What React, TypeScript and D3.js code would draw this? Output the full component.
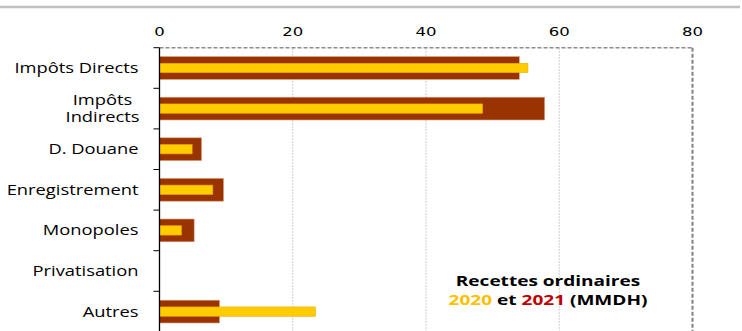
import React, { useEffect, useRef } from "react";
import * as d3 from "d3";

const categories = ["Impôts Directs", "Impôts\nIndirects", "D. Douane", "Enregistrement", "Monopoles", "Privatisation", "Autres"];
const values2021 = [54, 57.8, 6.3, 9.6, 5.2, 0, 9.0];
const values2020 = [55.3, 48.5, 4.9, 8.0, 3.3, 0, 23.4];
const xTicks = [0, 20, 40, 60, 80];
const titleLine1 = "Recettes ordinaires";

const W = 742, H = 331;
const SX = 1.31;

export default function App() {
  const ref = useRef<SVGSVGElement>(null);
  useEffect(() => {
    const svg = d3.select(ref.current);
    svg.selectAll("*").remove();
    const x = d3.scaleLinear().domain([0, 80]).range([159.5, 692.5]);
    const y = d3.scaleBand<string>().domain(categories).range([47.7, 47.7 + 40.6 * 7]).padding(0);
    const bw = y.bandwidth();

    // top gray rule
    svg.append("line").attr("x1", 0).attr("x2", 740).attr("y1", 7).attr("y2", 7)
      .attr("stroke", "#c0c0c0").attr("stroke-width", 2.5);

    // gridlines
    [20, 40, 60].forEach(v => {
      svg.append("line").attr("x1", x(v)).attr("x2", x(v)).attr("y1", 48).attr("y2", H)
        .attr("stroke", "#d0d0d0").attr("stroke-width", 1).attr("stroke-dasharray", "2,1");
    });
    // top axis dashed
    svg.append("line").attr("x1", x(0)).attr("x2", x(80)).attr("y1", 47.7).attr("y2", 47.7)
      .attr("stroke", "#8c8c8c").attr("stroke-width", 1.5).attr("stroke-dasharray", "4,2");
    // right border dashed
    svg.append("line").attr("x1", x(80)).attr("x2", x(80)).attr("y1", 47.7).attr("y2", H)
      .attr("stroke", "#808080").attr("stroke-width", 2).attr("stroke-dasharray", "4,2");

    // tick labels
    svg.selectAll("text.tick").data(xTicks).enter().append("text")
      .attr("transform", d => `translate(${x(d)},31.7) scale(1.27,1)`).attr("dy", "0.35em")
      .attr("text-anchor", "middle")
      .style("font-family", "DejaVu Sans").style("font-size", "13px").attr("fill", "#000")
      .text(d => d);

    // bars 2021
    svg.selectAll("rect.b21").data(categories).enter().append("rect")
      .attr("x", x(0)).attr("y", d => (y(d) as number) + bw * 0.22)
      .attr("width", (d, i) => x(values2021[i]) - x(0)).attr("height", bw * 0.56)
      .attr("fill", "#993300").attr("stroke", (d, i) => values2021[i] > 0 ? "#d8957a" : "none").attr("stroke-width", 0.6);
    svg.selectAll("rect.b20").data(categories).enter().append("rect")
      .attr("x", x(0)).attr("y", d => (y(d) as number) + bw * 0.385)
      .attr("width", (d, i) => x(values2020[i]) - x(0)).attr("height", bw * 0.23)
      .attr("fill", "#FFCC00").attr("stroke", (d, i) => values2020[i] > 0 ? "#f0a800" : "none").attr("stroke-width", 0.6);

    // left axis
    svg.append("line").attr("x1", x(0)).attr("x2", x(0)).attr("y1", 47.7).attr("y2", H)
      .attr("stroke", "#000").attr("stroke-width", 1.3);
    categories.forEach(c => {
      const yy = y(c) as number;
      svg.append("line").attr("x1", x(0) - 6).attr("x2", x(0)).attr("y1", yy).attr("y2", yy)
        .attr("stroke", "#000").attr("stroke-width", 1);
    });

    // category labels
    categories.forEach(c => {
      const lines = c.split("\n");
      const cy = (y(c) as number) + bw / 2;
      const multi = lines.length > 1;
      lines.forEach((ln, k) => {
        const ty = cy + (k - (lines.length - 1) / 2) * 17.5;
        svg.append("text")
          .attr("transform", `translate(${multi ? 102.5 : 138.5},${ty}) scale(${SX},1)`)
          .attr("dy", "0.35em")
          .attr("text-anchor", multi ? "middle" : "end")
          .style("font-family", "Open Sans").style("font-size", "14px").attr("fill", "#000")
          .text(ln);
      });
    });

    // legend title
    svg.append("text").attr("transform", `translate(548,281) scale(1.36,1)`).attr("dy", "0.35em").attr("text-anchor", "middle")
      .style("font-family", "Open Sans").style("font-weight", "bold").style("font-size", "14px").text(titleLine1);
    const t2 = svg.append("text").attr("transform", `translate(548,300) scale(1.36,1)`).attr("dy", "0.35em").attr("text-anchor", "middle")
      .style("font-family", "Open Sans").style("font-weight", "bold").style("font-size", "14px");
    t2.append("tspan").attr("fill", "#FFC000").text("2020");
    t2.append("tspan").attr("fill", "#000").text(" et ");
    t2.append("tspan").attr("fill", "#C00000").text("2021");
    t2.append("tspan").attr("fill", "#000").text(" (MMDH)");
  }, []);
  return (
    <svg ref={ref} width={W} height={H} style={{ position: "absolute", left: 0, top: 0, background: "#fff" }} />
  );
}
